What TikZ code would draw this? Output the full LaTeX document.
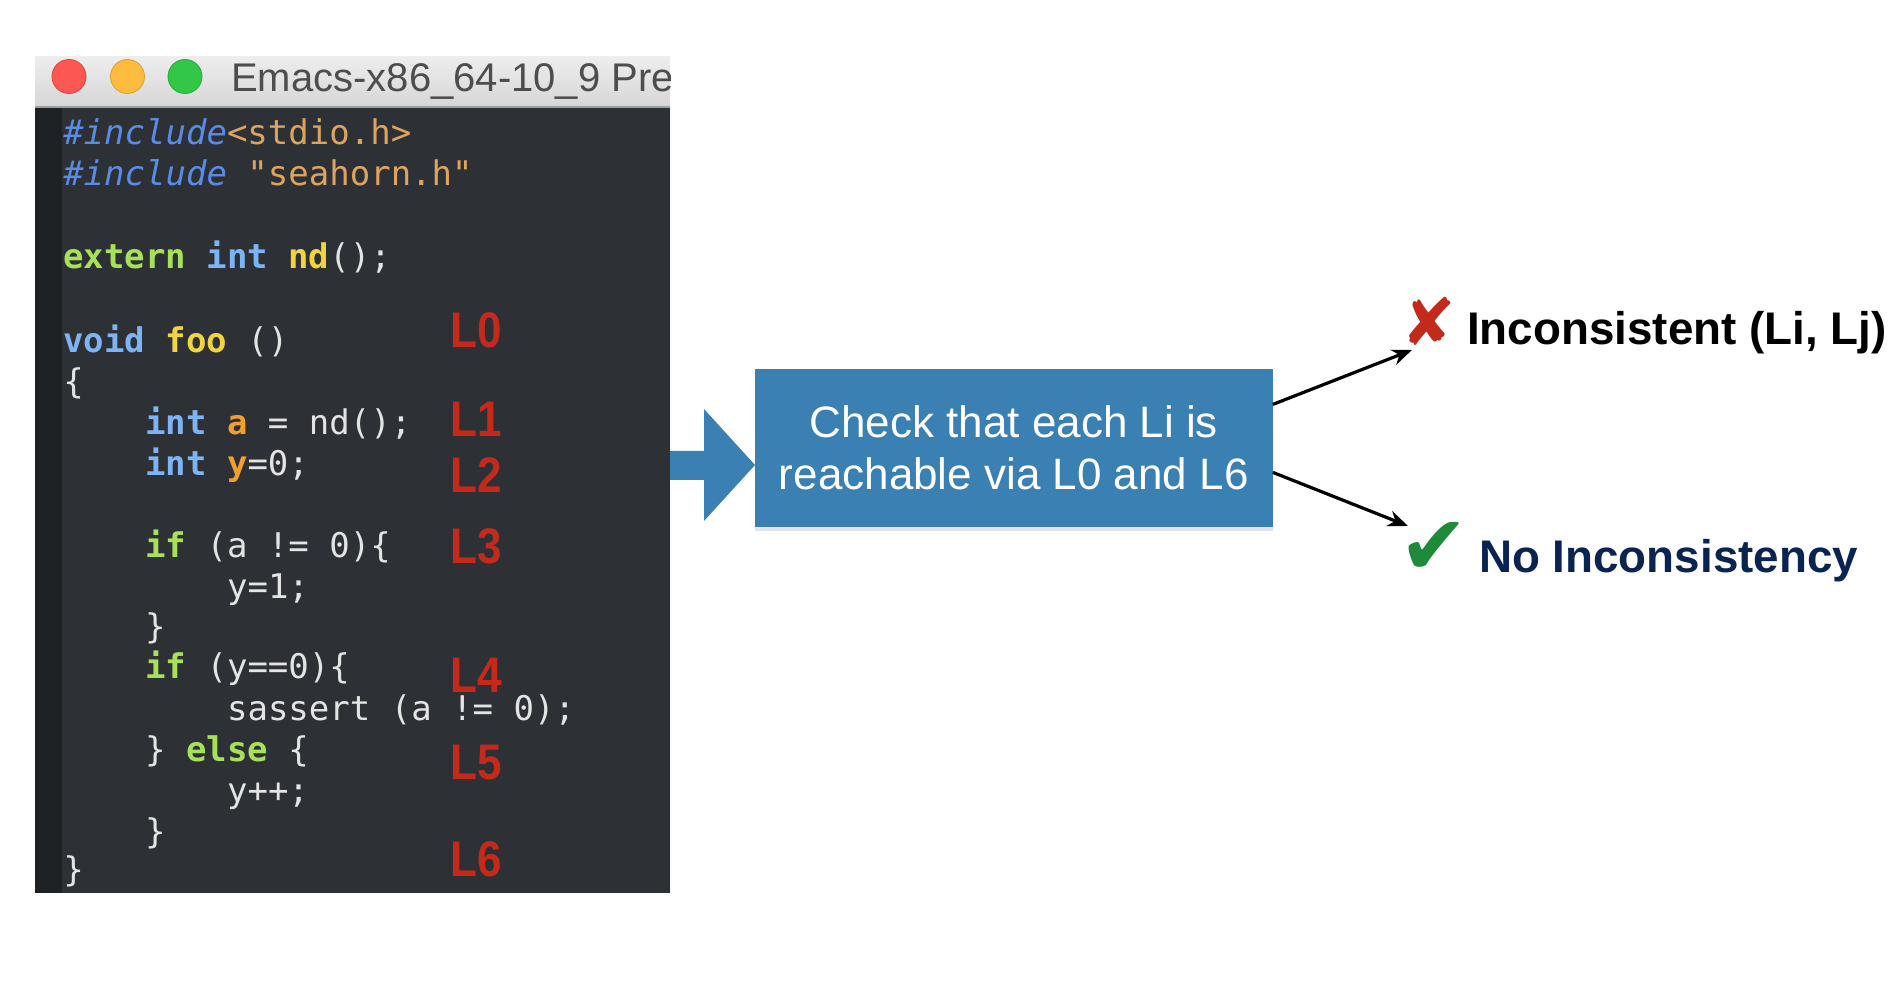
\documentclass[tikz,border=0pt]{standalone}
\usepackage{fontspec}
\setmainfont{Liberation Sans}
\newfontfamily\codefont{DejaVu Sans Mono}
\newfontfamily\symfont{DejaVu Sans}
\usetikzlibrary{arrows.meta,shadows}
\definecolor{codebg}{HTML}{2D3135}
\definecolor{gutter}{HTML}{1F2224}
\definecolor{codewhite}{HTML}{E4E4E4}
\definecolor{incblue}{HTML}{5A8CE6}
\definecolor{typblue}{HTML}{7EB4F4}
\definecolor{kwgreen}{HTML}{A8E05A}
\definecolor{fnyellow}{HTML}{F2D43C}
\definecolor{varorange}{HTML}{F0A030}
\definecolor{strorange}{HTML}{DCA45E}
\definecolor{lblred}{HTML}{C42A1C}
\definecolor{boxblue}{HTML}{3B80B3}
\definecolor{okgreen}{HTML}{1E8A3A}
\definecolor{navy}{HTML}{0B2350}
\definecolor{titlegray}{HTML}{4D4D4D}
\begin{document}
\begin{tikzpicture}[x=0.75pt,y=-0.75pt,
  code/.style={anchor=base west, inner sep=0pt, text=codewhite,
    font=\codefont\fontsize{25.5pt}{30pt}\selectfont},
  lbl/.style={anchor=base west, inner sep=0pt, text=lblred, xscale=0.88,
    font=\fontsize{37.5pt}{40pt}\selectfont\bfseries},
  verdict/.style={anchor=base west, inner sep=0pt,
    font=\fontsize{34.3pt}{40pt}\selectfont\bfseries},
  bluebox/.style={fill=boxblue, text=white, align=center, inner sep=0pt,
    minimum width=388.2pt, minimum height=118.5pt,
    font=\fontsize{33pt}{39pt}\selectfont,
    drop shadow={shadow xshift=0pt, shadow yshift=-3pt, opacity=0.2}},
  outarrow/.style={line width=2.4pt, -{Stealth[length=15pt,width=12pt]}},
  light/.style={circle, minimum size=25.5pt, inner sep=0pt, line width=0.6pt}
]
\useasboundingbox (0,0) rectangle (1904,994);
\fill[white] (0,0) rectangle (1904,994);

% window
\shade[top color=white!93!black, bottom color=white!84!black] (35,57) rectangle (670,107);
\draw[line width=1.5pt, white!62!black] (35,107) -- (670,107);
\fill[codebg] (35,108) rectangle (670,893);
\fill[gutter] (35,108) rectangle (62,893);
\node[light, fill={rgb,255:red,252;green,87;blue,83}, draw={rgb,255:red,222;green,64;blue,60}] (red) at (69,76.5) {};
\node[light, fill={rgb,255:red,253;green,188;blue,64}, draw={rgb,255:red,222;green,160;blue,40}] (yellow) at (127.5,76.5) {};
\node[light, fill={rgb,255:red,51;green,199;blue,72}, draw={rgb,255:red,36;green,170;blue,55}] (green) at (185,76.5) {};
\begin{scope}
\clip (35,57) rectangle (670,107);
\node[anchor=base west, inner sep=0pt, text=titlegray, font=\fontsize{30pt}{34pt}\selectfont] (title) at (231,92) {Emacs-x86\_64-10\_9 Pre};
\end{scope}

% code
\node[code] (c0) at (63,144.5) {{\itshape\color{incblue}\#include}{\color{strorange}<stdio.h>}};
\node[code] (c1) at (63,185.8) {{\itshape\color{incblue}\#include} {\color{strorange}"seahorn.h"}};
\node[code] (c3) at (63,268.4) {{\bfseries\color{kwgreen}extern} {\bfseries\color{typblue}int} {\bfseries\color{fnyellow}nd}();};
\node[code] (c5) at (63,352.1) {{\bfseries\color{typblue}void} {\bfseries\color{fnyellow}foo} ()};
\node[code] (c6) at (63,393.4) {\{};
\node[code] (c7) at (144.9,434.7) {{\bfseries\color{typblue}int} {\bfseries\color{varorange}a} = nd();};
\node[code] (c8) at (144.9,476.0) {{\bfseries\color{typblue}int} {\bfseries\color{varorange}y}=0;};
\node[code] (c10) at (144.9,557.4) {{\bfseries\color{kwgreen}if} (a != 0)\{};
\node[code] (c11) at (226.8,598.7) {y=1;};
\node[code] (c12) at (144.9,638.7) {\}};
\node[code] (c13) at (144.9,678.8) {{\bfseries\color{kwgreen}if} (y==0)\{};
\node[code] (c14) at (226.8,720.1) {sassert (a != 0);};
\node[code] (c15) at (144.9,761.4) {\} {\bfseries\color{kwgreen}else} \{};
\node[code] (c16) at (226.8,802.7) {y++;};
\node[code] (c17) at (144.9,843.9) {\}};
\node[code] (c18) at (63,881.6) {\}};

% labels
\node[lbl] (L0) at (450,348) {L0};
\node[lbl] (L1) at (450,437) {L1};
\node[lbl] (L2) at (450,493) {L2};
\node[lbl] (L3) at (450,564) {L3};
\node[lbl] (L4) at (450,692) {L4};
\node[lbl] (L5) at (450,779) {L5};
\node[lbl] (L6) at (450,876) {L6};

% blue arrow and box
\fill[boxblue] (670,451) -- (704,451) -- (704,409) -- (755,465) -- (704,521) -- (704,480) -- (670,480) -- cycle;
\node[bluebox] (box) at (1013.8,448) {Check that each Li is\\reachable via L0 and L6};

% verdicts
\node[inner sep=0pt, text=lblred, font=\symfont\fontsize{49pt}{49pt}\selectfont] (xm) at (1429,321) {✘};
\node[verdict] (inc) at (1467,345) {Inconsistent (Li, Lj)};
\node[inner sep=0pt, text=okgreen, font=\symfont\fontsize{62pt}{62pt}\selectfont] (ck) at (1434,548) {✔};
\node[verdict, text=navy] (noinc) at (1479,573) {No Inconsistency};

\coordinate (e1) at (1412,350);
\coordinate (e2) at (1408,526);
\draw[outarrow] ([yshift=32.7pt]box.east) -- (e1);
\draw[outarrow] ([yshift=-18.3pt]box.east) -- (e2);
\end{tikzpicture}
\end{document}
